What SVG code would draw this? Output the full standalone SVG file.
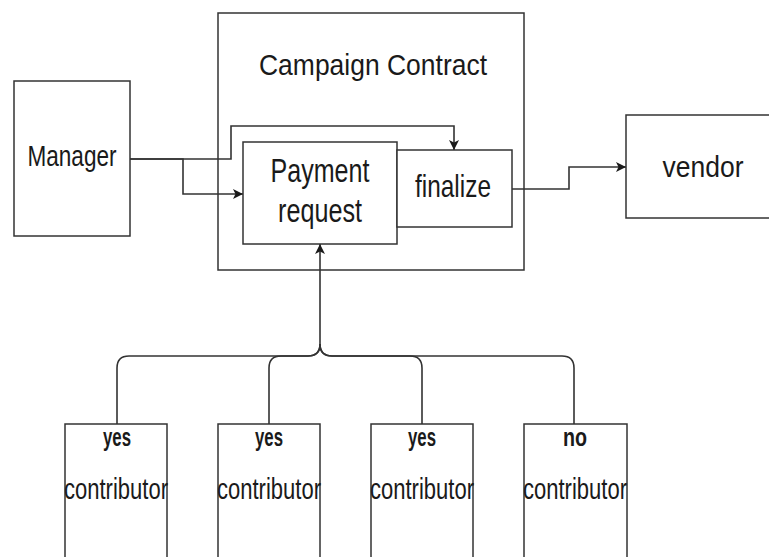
<svg xmlns="http://www.w3.org/2000/svg" width="769" height="557" viewBox="0 0 769 557">
  <defs>
    <style>
      .box { fill: #ffffff; stroke: #333333; stroke-width: 1.5; }
      .edge { fill: none; stroke: #333333; stroke-width: 1.6; }
      .lbl { font-family: "Liberation Sans", Arial, sans-serif; fill: #1a1a1a; text-anchor: middle; }
      .bold { font-weight: bold; }
    </style>
    <marker id="arrow" viewBox="0 0 10 10" refX="10" refY="5" markerWidth="10" markerHeight="10" markerUnits="userSpaceOnUse" orient="auto">
      <path d="M0,0 L10,5 L0,10 L2.5,5 Z" fill="#1a1a1a"/>
    </marker>
  </defs>
  <rect width="769" height="557" fill="#ffffff"/>

  <!-- contract container -->
  <g id="campaign-contract">
    <rect class="box" x="218" y="13" width="306" height="257"/>
    <text class="lbl" x="373" y="75" font-size="29" textLength="228" lengthAdjust="spacingAndGlyphs">Campaign Contract</text>
  </g>

  <!-- connectors -->
  <g id="connectors">
    <path class="edge" d="M123,159 H183 V194 H243" marker-end="url(#arrow)"/>
    <path class="edge" d="M123,159 H231 V126 H454 V150" marker-end="url(#arrow)"/>
    <path class="edge" d="M512,189 H569 V167 H626" marker-end="url(#arrow)"/>
    <path class="edge" d="M117,424 V368 Q117,356 129,356 H308 Q320,356 320,344 V244" marker-end="url(#arrow)"/>
    <path class="edge" d="M269,424 V368 Q269,356 281,356 H308 Q320,356 320,344"/>
    <path class="edge" d="M422,424 V368 Q422,356 410,356 H332 Q320,356 320,344"/>
    <path class="edge" d="M574,424 V368 Q574,356 562,356 H332 Q320,356 320,344"/>
  </g>

  <g id="manager">
    <rect class="box" x="14" y="81" width="116" height="155"/>
    <text class="lbl" x="72" y="166" font-size="30" textLength="89" lengthAdjust="spacingAndGlyphs">Manager</text>
  </g>

  <g id="payment-request">
    <rect class="box" x="243" y="142" width="154" height="102"/>
    <text class="lbl" x="320" y="182" font-size="34" textLength="99" lengthAdjust="spacingAndGlyphs">Payment</text>
    <text class="lbl" x="320" y="222" font-size="34" textLength="84" lengthAdjust="spacingAndGlyphs">request</text>
  </g>

  <g id="finalize">
    <rect class="box" x="397" y="150" width="115" height="77"/>
    <text class="lbl" x="453" y="197" font-size="32" textLength="76" lengthAdjust="spacingAndGlyphs">finalize</text>
  </g>

  <g id="vendor">
    <rect class="box" x="626" y="115" width="160" height="103"/>
    <text class="lbl" x="703" y="177" font-size="30" textLength="81" lengthAdjust="spacingAndGlyphs">vendor</text>
  </g>

  <g id="contributor-1">
    <rect class="box" x="65" y="424" width="102" height="160"/>
    <text class="lbl bold" x="117" y="446" font-size="26" textLength="28" lengthAdjust="spacingAndGlyphs">yes</text>
    <text class="lbl" x="116" y="499" font-size="29" textLength="104" lengthAdjust="spacingAndGlyphs">contributor</text>
  </g>

  <g id="contributor-2">
    <rect class="box" x="218" y="424" width="102" height="160"/>
    <text class="lbl bold" x="269" y="446" font-size="26" textLength="28" lengthAdjust="spacingAndGlyphs">yes</text>
    <text class="lbl" x="269" y="499" font-size="29" textLength="104" lengthAdjust="spacingAndGlyphs">contributor</text>
  </g>

  <g id="contributor-3">
    <rect class="box" x="371" y="424" width="102" height="160"/>
    <text class="lbl bold" x="422" y="446" font-size="26" textLength="28" lengthAdjust="spacingAndGlyphs">yes</text>
    <text class="lbl" x="422" y="499" font-size="29" textLength="104" lengthAdjust="spacingAndGlyphs">contributor</text>
  </g>

  <g id="contributor-4">
    <rect class="box" x="524" y="424" width="103" height="160"/>
    <text class="lbl bold" x="575" y="446" font-size="26" textLength="24" lengthAdjust="spacingAndGlyphs">no</text>
    <text class="lbl" x="575" y="499" font-size="29" textLength="104" lengthAdjust="spacingAndGlyphs">contributor</text>
  </g>
</svg>
